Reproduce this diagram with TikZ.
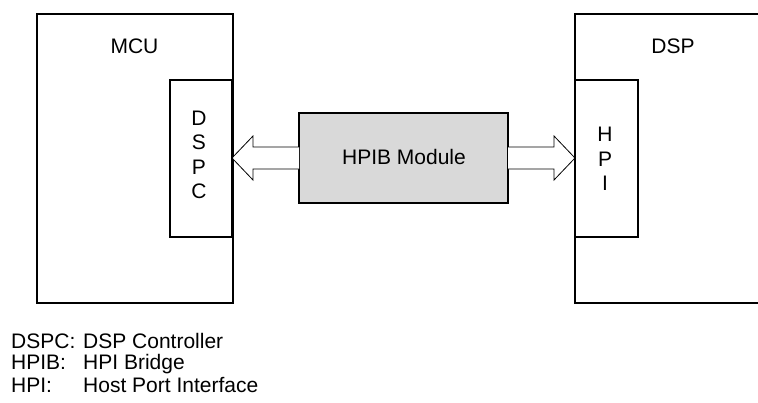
\documentclass[tikz,border=0pt]{standalone}
\usepackage{fontspec}
\setmainfont{Liberation Sans}
\usetikzlibrary{calc}
\definecolor{boxgray}{HTML}{D9D9D9}
\tikzset{
  outerbox/.style={draw, line width=2pt, inner sep=0pt, outer sep=0pt, minimum width=196pt, minimum height=289pt},
  portbox/.style={draw, line width=1.4pt, fill=white, inner sep=0pt, outer sep=0pt, minimum width=62pt, minimum height=157pt},
  modbox/.style={draw, line width=2pt, fill=boxgray, inner sep=0pt, outer sep=0pt, minimum width=209pt, minimum height=90pt},
  lbl/.style={inner sep=0pt, font=\fontsize{21}{24.5}\selectfont},
  fatarrow/.style={draw, line width=0.8pt, fill=white, line join=miter},
}
\begin{document}
\begin{tikzpicture}[x=1pt,y=-1pt]
\useasboundingbox (0,0) rectangle (758,402);
% main boxes
\node[outerbox] (mcu) at (134.5,158.5) {};
\node[outerbox] (dsp) at (673,158.5) {};
\node[portbox] (dspc) at (201,158.5) {};
\node[portbox, minimum width=63pt] (hpi) at (606.5,158.5) {};
\node[modbox] (hpib) at (403.5,158) {};
% labels
\node[lbl, anchor=base] (mcul) at (134.5,53) {MCU};
\node[lbl, anchor=base] (dspl) at (673,53) {DSP};
\node[lbl, align=center] (dspct) at (199,155) {D\\S\\P\\C};
\node[lbl, align=center] (hpit) at (605,159) {H\\P\\I};
\node[lbl, anchor=base] (hpibt) at (404,164) {HPIB Module};
% fat arrows
\coordinate (ltip) at (dspc.east |- hpib.west);
\coordinate (rtip) at (hpi.west |- hpib.east);
\draw[fatarrow] ($(hpib.west)+(0,-11)$) -- ($(ltip)+(21,-11)$) -- ($(ltip)+(21,-22)$) -- (ltip)
  -- ($(ltip)+(21,22)$) -- ($(ltip)+(21,11)$) -- ($(hpib.west)+(0,11)$);
\draw[fatarrow] ($(hpib.east)+(0,-11)$) -- ($(rtip)+(-21,-11)$) -- ($(rtip)+(-21,-22)$) -- (rtip)
  -- ($(rtip)+(-21,22)$) -- ($(rtip)+(-21,11)$) -- ($(hpib.east)+(0,11)$);
% legend
\node[lbl, anchor=base west] (k1) at (11,348) {DSPC:};
\node[lbl, anchor=base west] (v1) at (83,348) {DSP Controller};
\node[lbl, anchor=base west] (k2) at (11,369.3) {HPIB:};
\node[lbl, anchor=base west] (v2) at (83,369.3) {HPI Bridge};
\node[lbl, anchor=base west] (k3) at (11,392) {HPI:};
\node[lbl, anchor=base west] (v3) at (83,392) {Host Port Interface};
\end{tikzpicture}
\end{document}
